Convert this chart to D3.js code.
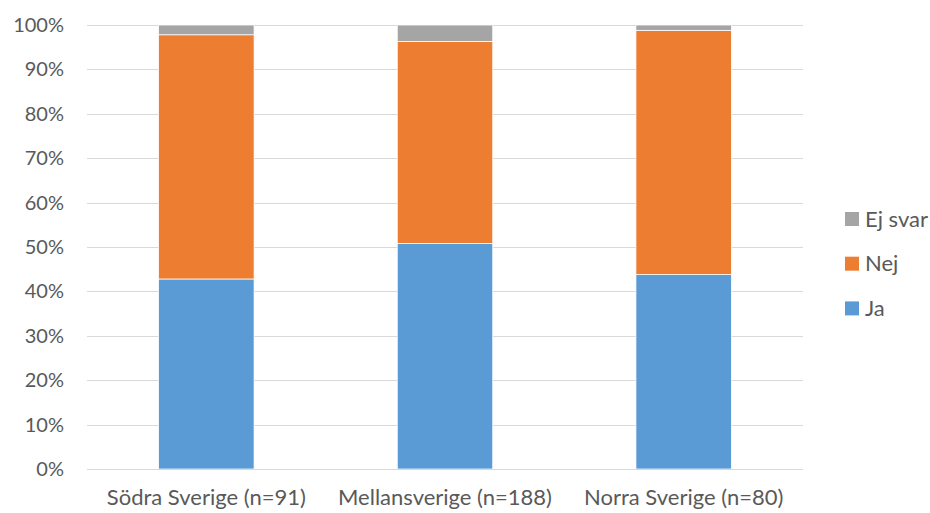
<!DOCTYPE html>
<html><head><meta charset="utf-8">
<script src="https://cdn.jsdelivr.net/npm/d3@7"></script>
<style>body{margin:0;background:#fff}svg{display:block}</style>
</head><body>
<svg id="chart" width="930" height="513"></svg>
<script>
const categories = ["Södra Sverige (n=91)", "Mellansverige (n=188)", "Norra Sverige (n=80)"];
const seriesNames = ["Ja", "Nej", "Ej svar"];
const ja = [42.8, 50.8, 43.8];
const nej = [55.0, 45.5, 55.0];
const ejSvar = [2.2, 3.7, 1.2];
const yTicks = [0, 10, 20, 30, 40, 50, 60, 70, 80, 90, 100];
const colors = ["#5b9bd5", "#ed7d31", "#a5a5a5"];

const svg = d3.select("#chart");
const font = "Lato, 'Open Sans', sans-serif";
const plotLeft = 87, plotRight = 803, plotTop = 25, plotBottom = 469;

const x = d3.scaleBand().domain(categories).range([plotLeft, plotRight]).paddingInner(0.6).paddingOuter(0.3);
const y = d3.scaleLinear().domain([0, 100]).range([plotBottom, plotTop]);

// gridlines
svg.append("g").selectAll("line").data(yTicks).join("line")
  .attr("x1", plotLeft).attr("x2", plotRight)
  .attr("y1", d => Math.round(y(d)) + 0.5).attr("y2", d => Math.round(y(d)) + 0.5)
  .attr("stroke", "#d9d9d9").attr("stroke-width", 1);

// y labels
svg.append("g").selectAll("text").data(yTicks).join("text")
  .attr("x", 64).attr("y", d => y(d)).attr("dy", "0.35em")
  .attr("text-anchor", "end").attr("fill", "#595959")
  .style("font-family", font).style("font-size", "20px")
  .text(d => d + "%");

const rows = categories.map((c, i) => ({cat: c, "Ja": ja[i], "Nej": nej[i], "Ej svar": ejSvar[i]}));
const stacked = d3.stack().keys(seriesNames)(rows);

svg.append("g").selectAll("g").data(stacked).join("g")
  .attr("fill", (d, i) => colors[i])
  .selectAll("rect").data(d => d).join("rect")
  .attr("x", d => x(d.data.cat)).attr("width", x.bandwidth())
  .attr("y", d => y(d[1])).attr("height", d => y(d[0]) - y(d[1]))
  .attr("stroke", "#fff").attr("stroke-width", 0.75);

// baseline
svg.append("line").attr("x1", plotLeft).attr("x2", plotRight)
  .attr("y1", Math.round(y(0)) + 0.5).attr("y2", Math.round(y(0)) + 0.5)
  .attr("stroke", "#d9d9d9");

// x labels
svg.append("g").selectAll("text").data(categories).join("text")
  .attr("x", d => x(d) + x.bandwidth() / 2).attr("y", 505)
  .attr("text-anchor", "middle").attr("fill", "#595959")
  .style("font-family", font).style("font-size", "22px")
  .text(d => d);

// legend
const legendOrder = ["Ej svar", "Nej", "Ja"];
const lg = svg.append("g").selectAll("g").data(legendOrder).join("g")
  .attr("transform", (d, i) => `translate(845, ${219 + i * 44.7})`);
lg.append("rect").attr("x", 0).attr("y", -7).attr("width", 14).attr("height", 14)
  .attr("fill", d => colors[seriesNames.indexOf(d)]);
lg.append("text").attr("x", 20).attr("y", 0).attr("dy", "0.35em")
  .attr("fill", "#595959").style("font-family", font).style("font-size", "22px")
  .text(d => d);
</script>
</body></html>
